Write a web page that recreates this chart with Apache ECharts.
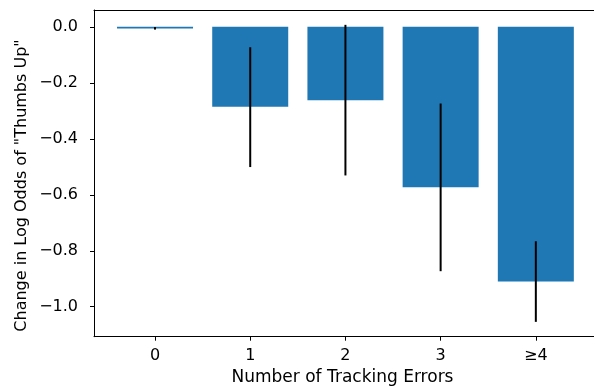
<!DOCTYPE html>
<html>
<head>
<meta charset="utf-8">
<script src="https://cdn.jsdelivr.net/npm/echarts@6/dist/echarts.min.js"></script>
<style>
html,body{margin:0;padding:0;background:#fff;}
#chart{width:594px;height:390px;}
</style>
</head>
<body>
<div id="chart"></div>
<script>
const categories = ['0', '1', '2', '3', '≥4'];
const values = [-0.006, -0.286, -0.262, -0.573, -0.910];
const errLow = [-0.010, -0.501, -0.531, -0.873, -1.054];
const errHigh = [-0.001, -0.073, 0.007, -0.274, -0.766];
const yTicks = [0, -0.2, -0.4, -0.6, -0.8, -1.0];
const xTicks = [0, 1, 2, 3, 4];

const FONT = 'DejaVu Sans';
const chart = echarts.init(document.getElementById('chart'), null, {renderer: 'canvas'});

const barData = values.map((v, i) => [i, v]);
const errData = values.map((v, i) => [i, errLow[i], errHigh[i]]);

const axisBase = {
  type: 'value', min: -0.641, max: 4.611,
  splitLine: {show: false}
};

chart.setOption({
  animation: false,
  backgroundColor: '#fff',
  grid: {left: 94, top: 10, right: 0, bottom: 53.3},
  xAxis: [
    Object.assign({}, axisBase, {
      position: 'bottom',
      axisLine: {show: true, onZero: false, lineStyle: {color: '#000', width: 1}},
      axisTick: {show: true, length: 4, customValues: xTicks, lineStyle: {color: '#000'}},
      axisLabel: {customValues: xTicks, formatter: v => categories[Math.round(v)], color: '#000', fontFamily: FONT, fontSize: 16, margin: 11}
    }),
    Object.assign({}, axisBase, {
      position: 'top',
      axisLine: {show: true, onZero: false, lineStyle: {color: '#000', width: 1}},
      axisTick: {show: false},
      axisLabel: {show: false}
    })
  ],
  yAxis: {
    type: 'value', min: -1.107, max: 0.060,
    splitLine: {show: false},
    axisLine: {show: true, onZero: false, lineStyle: {color: '#000', width: 1}},
    axisTick: {show: true, length: 4, customValues: yTicks, lineStyle: {color: '#000'}},
    axisLabel: {customValues: yTicks, formatter: v => (v < 0 ? '\u2212' : '') + Math.abs(v).toFixed(1), color: '#000', fontFamily: FONT, fontSize: 16, margin: 16}
  },
  graphic: [
    {type: 'text', x: 342.5, y: 378, style: {text: 'Number of Tracking Errors', fontFamily: FONT, fontSize: 17, fill: '#000', align: 'center', verticalAlign: 'middle'}},
    {type: 'text', rotation: Math.PI / 2, x: 22, y: 185.5, style: {text: 'Change in Log Odds of "Thumbs Up"', fontFamily: FONT, fontSize: 16, fill: '#000', align: 'center', verticalAlign: 'middle'}}
  ],
  series: [
    {type: 'bar', data: barData, barWidth: 76, itemStyle: {color: '#1f77b4'}, encode: {x: 0, y: 1}},
    {type: 'custom', data: errData, encode: {x: 0, y: [1, 2]}, z: 5,
      renderItem: function (params, api) {
        const x = api.value(0);
        const p1 = api.coord([x, api.value(1)]);
        const p2 = api.coord([x, api.value(2)]);
        return {type: 'line', shape: {x1: p1[0], y1: p1[1], x2: p2[0], y2: p2[1]}, style: {stroke: '#000', lineWidth: 2}};
      }
    }
  ]
});
</script>
</body>
</html>
